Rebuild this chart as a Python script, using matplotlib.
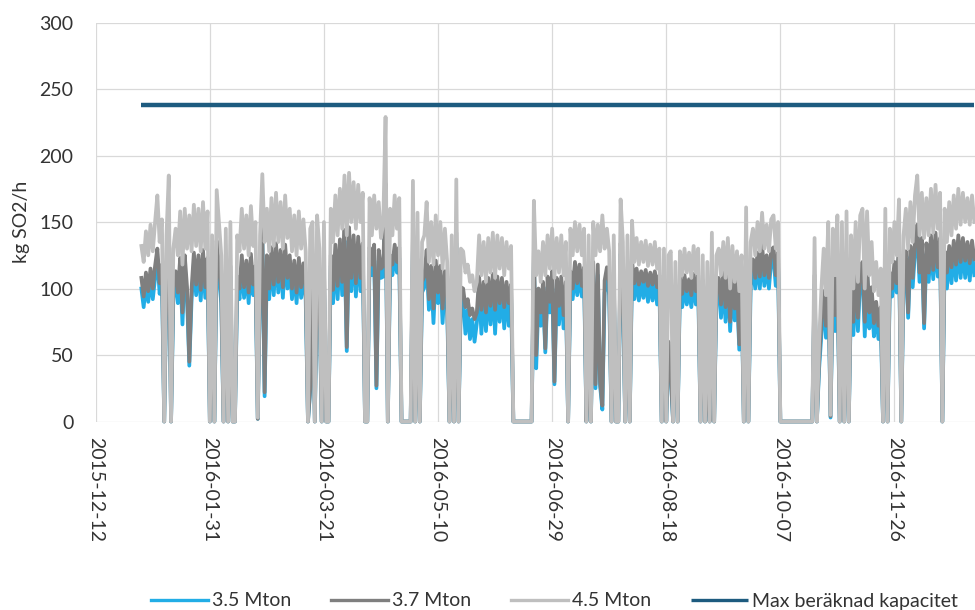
import pandas as pd
import matplotlib
matplotlib.use('Agg')
import matplotlib.pyplot as plt

plt.rcParams['font.family'] = ['Lato', 'DejaVu Sans']

# daily SO2 load 2016, kg/h
dates = pd.date_range('2016-01-01', '2016-12-31', freq='D')

mton_35 = [
    100, 86, 104, 90, 107, 92, 108, 122, 96, 110,
    0, 101, 135, 0, 93, 105, 89, 115, 73, 117,
    93, 42, 92, 119, 95, 117, 91, 121, 93, 115,
    0, 101, 0, 128, 109, 89, 0, 105, 0, 109,
    0, 0, 101, 92, 117, 93, 113, 89, 118, 95,
    109, 2, 101, 136, 19, 117, 92, 123, 95, 126,
    97, 121, 93, 125, 100, 117, 92, 113, 89, 115,
    93, 111, 92, 0, 24, 109, 0, 113, 93, 0,
    109, 0, 0, 117, 89, 125, 92, 129, 95, 136,
    53, 137, 98, 131, 94, 130, 98, 126, 0, 0,
    123, 110, 125, 25, 121, 108, 109, 170, 0, 117,
    110, 125, 112, 123, 0, 0, 0, 0, 0, 133,
    0, 114, 0, 97, 101, 121, 84, 109, 74, 113,
    89, 109, 74, 105, 86, 0, 101, 0, 134, 0,
    93, 92, 66, 84, 62, 77, 60, 74, 101, 66,
    97, 68, 100, 73, 103, 66, 101, 75, 100, 70,
    97, 72, 95, 0, 0, 0, 0, 0, 0, 0,
    0, 0, 121, 40, 92, 72, 97, 52, 101, 82,
    105, 28, 100, 73, 101, 70, 97, 0, 105, 92,
    112, 95, 110, 94, 108, 0, 58, 0, 112, 25,
    110, 27, 9, 97, 108, 95, 0, 104, 0, 0,
    126, 97, 0, 104, 0, 113, 92, 107, 91, 105,
    93, 106, 90, 104, 91, 105, 88, 102, 0, 102,
    0, 57, 33, 0, 90, 0, 100, 86, 102, 88,
    99, 86, 103, 88, 102, 0, 98, 0, 47, 0,
    112, 0, 96, 100, 78, 104, 75, 107, 68, 102,
    76, 98, 54, 96, 0, 126, 0, 102, 114, 100,
    119, 100, 125, 102, 117, 100, 121, 123, 102, 119,
    0, 0, 0, 0, 0, 0, 0, 0, 0, 0,
    0, 0, 0, 0, 0, 103, 0, 40, 66, 91,
    63, 105, 3, 101, 68, 108, 0, 105, 0, 111,
    0, 97, 65, 105, 68, 108, 112, 64, 111, 70,
    93, 64, 80, 62, 76, 0, 112, 0, 104, 94,
    112, 97, 126, 0, 107, 120, 78, 124, 101, 128,
    140, 105, 130, 70, 126, 105, 132, 107, 134, 109,
    130, 0, 120, 100, 124, 104, 128, 106, 132, 108,
    130, 108, 127, 106, 128, 110,
]

mton_37 = [
    108, 94, 112, 98, 115, 100, 117, 130, 104, 118,
    0, 109, 144, 0, 101, 113, 97, 123, 82, 125,
    101, 45, 100, 127, 103, 125, 99, 129, 101, 123,
    0, 109, 0, 136, 117, 97, 0, 113, 0, 117,
    0, 0, 109, 100, 125, 101, 121, 97, 126, 103,
    117, 2, 109, 145, 22, 125, 100, 131, 103, 134,
    105, 129, 101, 133, 108, 125, 100, 121, 97, 123,
    101, 119, 100, 0, 26, 117, 0, 121, 101, 0,
    117, 0, 0, 125, 99, 133, 102, 137, 105, 144,
    56, 146, 108, 140, 104, 139, 108, 134, 0, 0,
    131, 118, 133, 27, 129, 115, 117, 179, 0, 125,
    118, 133, 120, 131, 0, 0, 0, 0, 0, 141,
    0, 122, 0, 105, 109, 129, 92, 117, 85, 121,
    97, 117, 85, 113, 94, 0, 109, 0, 142, 0,
    101, 100, 86, 92, 80, 85, 77, 82, 109, 84,
    105, 82, 108, 87, 111, 84, 109, 89, 108, 86,
    105, 89, 103, 0, 0, 0, 0, 0, 0, 0,
    0, 0, 129, 50, 100, 82, 105, 55, 109, 90,
    113, 30, 108, 87, 109, 80, 105, 0, 113, 100,
    120, 104, 118, 102, 116, 0, 62, 0, 120, 28,
    118, 30, 12, 106, 116, 104, 0, 112, 0, 0,
    134, 110, 0, 112, 0, 121, 104, 115, 103, 113,
    105, 114, 102, 112, 103, 113, 101, 110, 0, 110,
    0, 60, 35, 0, 102, 0, 108, 96, 110, 98,
    107, 95, 111, 98, 110, 0, 106, 0, 50, 0,
    120, 0, 104, 108, 88, 112, 86, 115, 75, 110,
    85, 106, 58, 104, 0, 134, 0, 115, 122, 108,
    127, 109, 133, 110, 125, 108, 129, 131, 110, 127,
    0, 0, 0, 0, 0, 0, 0, 0, 0, 0,
    0, 0, 0, 0, 0, 110, 0, 45, 75, 98,
    72, 113, 4, 109, 80, 116, 0, 113, 0, 119,
    0, 105, 75, 113, 78, 116, 120, 75, 119, 82,
    101, 74, 90, 72, 86, 0, 120, 0, 112, 100,
    120, 104, 134, 0, 115, 128, 82, 132, 108, 136,
    148, 112, 138, 74, 134, 112, 140, 114, 142, 116,
    138, 0, 128, 112, 132, 116, 136, 118, 140, 120,
    138, 121, 135, 119, 136, 122,
]

mton_45 = [
    132, 120, 143, 125, 148, 128, 150, 170, 135, 152,
    0, 140, 185, 0, 130, 145, 125, 158, 118, 160,
    130, 155, 128, 163, 132, 160, 128, 165, 130, 158,
    0, 140, 0, 174, 150, 125, 0, 145, 0, 150,
    0, 0, 140, 128, 160, 130, 155, 125, 162, 132,
    150, 3, 140, 186, 135, 160, 128, 168, 132, 172,
    135, 165, 130, 170, 138, 160, 128, 155, 125, 158,
    130, 152, 128, 0, 145, 150, 0, 155, 130, 0,
    150, 0, 0, 160, 135, 170, 140, 175, 145, 185,
    140, 187, 150, 180, 145, 178, 150, 172, 0, 0,
    168, 140, 170, 145, 165, 138, 150, 229, 0, 160,
    140, 170, 145, 168, 0, 0, 0, 0, 0, 181,
    0, 157, 0, 135, 140, 165, 120, 150, 118, 155,
    125, 150, 115, 145, 120, 0, 140, 0, 182, 0,
    130, 128, 112, 118, 105, 110, 98, 105, 140, 110,
    135, 105, 138, 112, 142, 108, 140, 115, 138, 110,
    135, 115, 132, 0, 0, 0, 0, 0, 0, 0,
    0, 0, 166, 110, 128, 105, 135, 110, 140, 115,
    145, 108, 138, 112, 140, 110, 135, 0, 145, 125,
    150, 128, 148, 125, 145, 0, 140, 0, 150, 125,
    148, 128, 155, 130, 145, 128, 0, 140, 0, 0,
    167, 135, 0, 140, 0, 151, 120, 138, 118, 135,
    120, 136, 117, 133, 118, 135, 115, 130, 0, 130,
    0, 125, 128, 0, 120, 0, 128, 110, 130, 112,
    127, 108, 132, 112, 130, 0, 125, 0, 120, 0,
    142, 0, 125, 130, 110, 135, 108, 138, 100, 132,
    105, 128, 98, 125, 0, 161, 0, 135, 145, 125,
    150, 128, 157, 130, 148, 128, 152, 155, 130, 150,
    0, 0, 0, 0, 0, 0, 0, 0, 0, 0,
    0, 0, 0, 0, 0, 138, 0, 60, 100, 130,
    95, 150, 5, 145, 110, 155, 0, 150, 0, 158,
    0, 140, 100, 150, 105, 155, 160, 100, 158, 110,
    135, 98, 120, 95, 115, 0, 160, 0, 145, 120,
    150, 125, 167, 0, 140, 160, 130, 165, 135, 170,
    185, 140, 172, 138, 168, 140, 175, 142, 178, 145,
    172, 0, 160, 135, 165, 140, 170, 145, 175, 148,
    172, 150, 168, 148, 170, 150,
]

max_kapacitet = 238

tick_dates = ['2015-12-12', '2016-01-31', '2016-03-21', '2016-05-10',
              '2016-06-29', '2016-08-18', '2016-10-07', '2016-11-26']

fig = plt.figure(figsize=(9.75, 6.1), dpi=100)
ax = fig.add_axes([0.0982, 0.309, 0.9362, 0.654])

lw = 2.7
ax.plot(dates, mton_35, color='#22ADE6', lw=lw, clip_on=False, label='3.5 Mton')
ax.plot(dates, mton_37, color='#7F7F7F', lw=lw, clip_on=False, label='3.7 Mton')
ax.plot(dates, mton_45, color='#BFBFBF', lw=lw, clip_on=False, label='4.5 Mton')
ax.plot([dates[0], dates[-1]], [max_kapacitet, max_kapacitet], color='#1D5B7F',
        lw=3.2, solid_capstyle='butt', label='Max beräknad kapacitet')

ax.set_ylim(0, 300)
ax.set_yticks(range(0, 301, 50))
ax.set_xlim(pd.Timestamp('2015-12-12'), pd.Timestamp('2017-01-15'))
ax.set_xticks(pd.to_datetime(tick_dates))
ax.set_xticklabels(tick_dates, rotation=-90)

ax.grid(color='#D9D9D9', lw=0.9)
ax.set_axisbelow(True)
for s in ax.spines.values():
    s.set_visible(False)
ax.tick_params(length=0, labelsize=14, colors='#333333')
ax.tick_params(axis='y', pad=16)
ax.tick_params(axis='x', pad=11)

ax.set_ylabel('kg SO2/h', fontsize=14, color='#333333')
ax.yaxis.set_label_coords(-0.072, 0.5)

leg = fig.legend(loc='center left', bbox_to_anchor=(151 / 975, 1 - 601 / 610),
                 ncol=4, frameon=False, fontsize=14, handlelength=2.94,
                 handletextpad=0.2, columnspacing=2.05, borderpad=0,
                 borderaxespad=0, labelcolor='#333333')
for line in leg.get_lines():
    line.set_linewidth(2.4)

fig.savefig('out.png', dpi=100)
